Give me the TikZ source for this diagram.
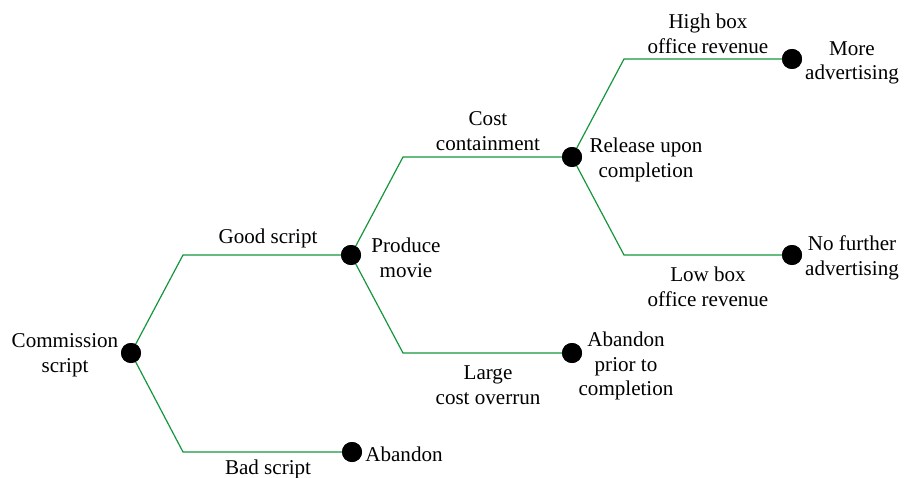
\documentclass[tikz,border=0pt]{standalone}
\usepackage{fontspec}
\setmainfont{Liberation Serif}
\usetikzlibrary{calc}
\definecolor{branch}{RGB}{20,150,60}
\begin{document}
\begin{tikzpicture}[x=0.75pt,y=-0.75pt,
  dot/.style={circle,fill=black,inner sep=0pt,minimum size=15pt},
  edge/.style={draw=branch,line width=0.9pt},
  lbl/.style={inner sep=0pt,align=center,font=\fontsize{15.8pt}{18.4pt}\selectfont}]
\useasboundingbox (0,0) rectangle (910,478);

% decision / event points
\node[dot] (commission) at (131,353) {};
\node[dot] (produce) at (351,255) {};
\node[dot] (abandon) at (352,452) {};
\node[dot] (release) at (572,157) {};
\node[dot] (prior) at (572,353) {};
\node[dot] (more) at (792,59) {};
\node[dot] (nofurther) at (792,255) {};

% bends of the branches
\coordinate (gs) at (183,255);
\coordinate (bs) at (183,452);
\coordinate (cc) at (403,157);
\coordinate (lc) at (403,353);
\coordinate (hb) at (624,59);
\coordinate (lb) at (624,255);

\draw[edge] (commission.center) -- (gs) -- (produce.center);
\draw[edge] (commission.center) -- (bs) -- (abandon.center);
\draw[edge] (produce.center) -- (cc) -- (release.center);
\draw[edge] (produce.center) -- (lc) -- (prior.center);
\draw[edge] (release.center) -- (hb) -- (more.center);
\draw[edge] (release.center) -- (lb) -- (nofurther.center);
\foreach \n in {commission,produce,abandon,release,prior,more,nofurther}
  \node[dot] at (\n) {};

% branch labels
\node[lbl] (tgood) at (268,238) {Good script};
\node[lbl] (tbad) at (268,469) {Bad script};
\node[lbl] (tcost) at (488,131) {Cost\\containment};
\node[lbl] (tlarge) at (488,385) {Large\\cost overrun};
\node[lbl] (thigh) at (708,34) {High box\\office revenue};
\node[lbl] (tlow) at (708,287) {Low box\\office revenue};

% point labels
\node[lbl] (tcomm) at (65,355) {Commission\\script};
\node[lbl] (tprod) at (406,258) {Produce\\movie};
\node[lbl] (taband) at (404,454) {Abandon};
\node[lbl] (trel) at (646,160) {Release upon\\completion};
\node[lbl] (tprior) at (626,366) {Abandon\\prior to\\completion};
\node[lbl] (tmore) at (852,63) {More\\advertising};
\node[lbl] (tnof) at (852,258) {No further\\advertising};
\end{tikzpicture}
\end{document}
